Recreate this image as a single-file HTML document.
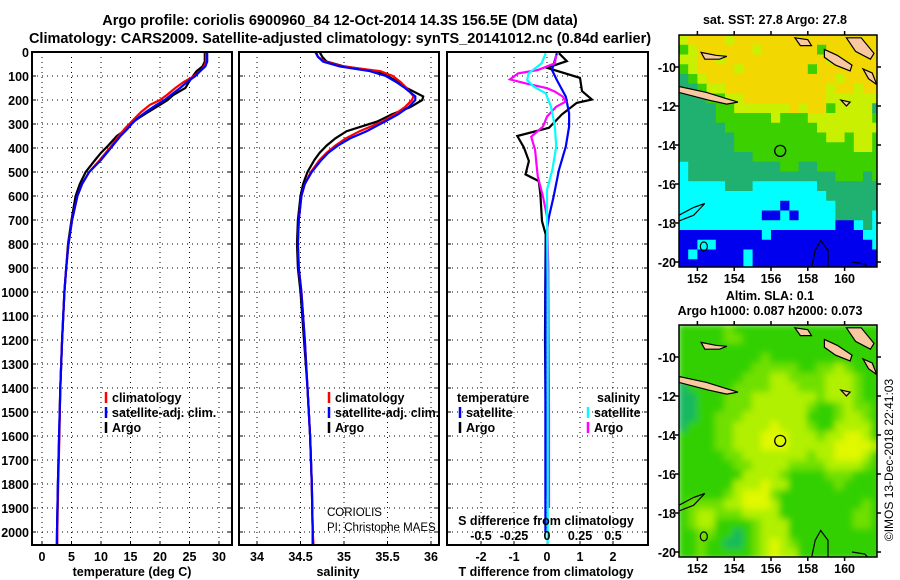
<!DOCTYPE html>
<html><head><meta charset="utf-8">
<style>
html,body{margin:0;padding:0;background:#fff;}
svg{display:block;font-family:"Liberation Sans",sans-serif;}
.b{font-weight:bold;font-size:12.5px;}
.t{font-weight:bold;font-size:14.5px;}
</style></head>
<body>
<svg id="fig" width="900" height="580" viewBox="0 0 900 580">
<text class="t" x="340" y="25" text-anchor="middle">Argo profile: coriolis 6900960_84 12-Oct-2014 14.3S 156.5E (DM data)</text>
<text class="t" x="340" y="43" text-anchor="middle">Climatology: CARS2009. Satellite-adjusted climatology: synTS_20141012.nc (0.84d earlier)</text>
<text class="b" x="775" y="24" text-anchor="middle">sat. SST: 27.8 Argo: 27.8</text>
<text class="b" x="770" y="300" text-anchor="middle">Altim. SLA: 0.1</text>
<text class="b" x="770" y="315" text-anchor="middle">Argo h1000: 0.087 h2000: 0.073</text>
<text x="893" y="460" font-size="12" text-anchor="middle" transform="rotate(-90 893 460)">©IMOS 13-Dec-2018 22:41:03</text>
<g id="layer"></g>
</svg>
<script>
// ---------- data ----------
const depthTicks = [0,100,200,300,400,500,600,700,800,900,1000,1100,1200,1300,1400,1500,1600,1700,1800,1900,2000];
const tempTicks = [0,5,10,15,20,25,30];
const salTicks = [34,34.5,35,35.5,36];
const salTickLabels = ["34","34.5","35","35.5","36"];
const tdiffTicks = [-2,-1,0,1,2];
const sdiffTicks = [-0.5,-0.25,0,0.25,0.5];
const sdiffLabels = ["-0.5","-0.25","0","0.25","0.5"];

const tDepth = [0,40,60,80,100,125,150,180,200,220,250,280,300,320,350,390,420,450,500,550,600,700,800,900,1000,1200,1400,1600,1800,2000,2050];
const tArgo = [27.6,27.6,27.2,26.2,25.6,24.9,24.3,22.2,21.3,20.0,18.0,16.1,15.0,14.4,12.7,11.2,10.0,9.0,7.4,6.4,5.7,5.0,4.4,4.1,3.8,3.4,3.1,2.9,2.7,2.55,2.5];
const tClim = [27.8,27.8,27.5,26.8,25.8,24.0,22.6,21.1,20.0,18.3,16.8,15.6,14.8,14.0,13.0,11.8,10.8,9.8,8.0,6.8,6.0,5.1,4.5,4.1,3.8,3.4,3.1,2.95,2.75,2.6,2.6];
const tSat = [28.0,28.0,27.7,26.8,26.0,24.6,23.4,21.8,20.8,19.4,17.6,16.0,15.2,14.5,13.3,12.0,11.0,10.0,8.0,6.8,6.0,5.1,4.5,4.1,3.8,3.4,3.1,2.9,2.7,2.55,2.55];

const sDepth = [0,20,40,60,80,100,125,150,185,200,230,260,290,330,360,390,420,450,500,550,600,700,800,900,1000,1200,1400,1600,1800,2000,2050];
const sArgo = [34.72,34.75,34.80,35.0,35.38,35.50,35.62,35.72,35.91,35.90,35.76,35.55,35.38,35.03,34.9,34.8,34.72,34.66,34.58,34.53,34.50,34.47,34.46,34.47,34.50,34.54,34.58,34.61,34.63,34.64,34.64];
const sClim = [34.68,34.70,34.78,34.98,35.42,35.56,35.65,35.72,35.80,35.78,35.70,35.58,35.44,35.18,35.02,34.9,34.8,34.72,34.62,34.55,34.51,34.48,34.47,34.48,34.51,34.55,34.58,34.61,34.63,34.64,34.65];
const sSat = [34.67,34.70,34.76,34.95,35.30,35.48,35.60,35.70,35.82,35.82,35.74,35.62,35.47,35.26,35.07,34.93,34.82,34.74,34.63,34.55,34.51,34.48,34.47,34.48,34.51,34.55,34.58,34.61,34.63,34.64,34.64];

const dtArgoDepth = [5,38,66,108,163,198,212,260,316,350,398,454,510,538,594,705,760,900,1200,1500,1850];
const dtArgo = [0.36,0.6,0.0,1.0,1.06,1.36,0.9,0.45,0.06,-0.9,-0.7,-0.55,-0.65,-0.25,-0.2,-0.15,-0.04,-0.05,-0.06,-0.04,-0.04];
const dtSatDepth = [5,75,117,186,256,311,394,492,603,686,769,1000,1500,2000];
const dtSat = [0.3,0.15,0.3,0.57,0.67,0.67,0.57,0.36,0.2,0.06,-0.03,-0.05,-0.05,-0.05];
const dsArgoDepth = [13,47,75,89,114,131,151,165,186,207,228,269,311,353,408,464,519,603,686,900,1500,1900];
const dsArgo = [0.07,0.06,-0.07,-0.22,-0.28,-0.16,0,0.06,0.12,0.14,0.07,0,-0.03,-0.12,-0.09,-0.08,-0.07,-0.03,0,0.01,0.015,0.015];
const dsSatDepth = [5,47,89,117,144,172,228,311,394,492,575,686,1000,1500,2050];
const dsSat = [-0.01,-0.04,-0.14,-0.15,-0.1,-0.01,0.03,0.06,0.07,0.04,0,0,0.005,0.005,0.005];

const latTicks = [-10,-12,-14,-16,-18,-20];
const lonTicks = [152,154,156,158,160];
const sstGrid = [
"LYYYYLYYYYYYYYYYYYYYYY","GLYYYYYYLYYYYYYGYYYYYY","LLYYLYYYYYYYYYYYLYYYYY","GLYYYYLYYYYYYYGYYYYYYY",
"TGLYYYYYYYYYYYYYYLYYYY","TTGLLYYYYYYYYYYYLYYLYY","TTTGGLLYYYYYYYYYLLLLLL","TTTTGGLLLLLLYLYYGLLLLT",
"TTTTGGGGGGLGGGLLLLLLLG","TTTTTGGGGGGGGGGLLLLLLL","TTTTTTGGGGGGGGGGLLGLLG","TTTTTTGGGGGGGGGGGGGLLG",
"TTTTTTTTGGGGGGGGGGGGGG","CTTTTTTTTTTGGTTGGGGGGG","CTTTTTTTTTTTTTTTTGGGTG","CCCCCTTTCCCCCCCTTTTTTT",
"CCCCCCCCCCCCCCCCTTTTTT","CCCCCCCCCCCBCCCCCTTTTT","CCCCCCCCCBBCBCCCCTTTTC","CCCCCCCCCCCCCCCCCBBCTC",
"BBBBBBBBBCBBBBBBBBBBCC","BBCCBBBBBBBBBBBBBBBBBC","BCBBBBBCBBBBBBBBBBBBBB","BBBBBBBCBBBBBBBBBBBBBB"];
const slaGrid = [
"GGGGGMGGGGGGGGGGGGGGGG","GGGGGMMGGGGGGGGGGGGGGG","GGGGGGGGGGGGGGGGGGGGGG","GGGGGGGGGMGGGGGGGGGGGG",
"GGGGGGGGMMMMMGGMMLMGGG","GGGGGGGMMMLLMMMMLLLMGG","DGGGGGMMMMLLLMMMLLLMGG","DDGGGMMMLLLLLLLMLLLMGG",
"DDGGGMMMLLLLLLMGGMLMMG","DDGGMMMLLLLLLLGGGMLLMG","DGGGMMLLLLYLLLMGGLLLLG","GGGGMMLLLYYYLLLMLLYYLG",
"GGGGMMLLLYYYLLLLLYYYYL","GGGGGMMLLLLLLLMLLYYYLG","GGGGGGMMLLLLMMMMLLLLMG","GGGGGGGLLLLMGGGGMMMGGG",
"GGGGGGLLLYLLGGGGGMGGGG","GGGGGMLYYYMGGGGGGGGGGG","GMMMMLLYYYLGGGGGGGGGMG","GMLLMMMLLLLGGGGGGGGMMG",
"GMLLGGGGMLLLGGGGGGGMMG","GGMMGGDGMLLLGGGGGGGGGG","GGMGGDDGMLYLMGGGGGGGGG","GGMGGGGGMLYLLGGGGGGGGG"];
const argoLon = 156.5, argoLat = -14.3;

// ---------- helpers ----------
const NS="http://www.w3.org/2000/svg";
const layer=document.getElementById('layer');
function mk(tag,attrs,parent){const e=document.createElementNS(NS,tag);for(const k in attrs)e.setAttribute(k,attrs[k]);(parent||layer).appendChild(e);return e;}
const TOP=52, BOT=545;
function yD(d){return TOP+d*0.24;}

function panel(x0,x1,name){
  const g=mk('g',{});
  
  
  return g;
}
function grid(g,x0,x1,xs){
  depthTicks.forEach(d=>{if(d>0){const l=mk('line',{x1:x0,x2:x1,y1:yD(d),y2:yD(d),stroke:'#000','stroke-width':1,'stroke-dasharray':'1 4'},g);
    
    
    mk('line',{x1:x0,x2:x0+4,y1:yD(d),y2:yD(d),stroke:'#000'},g);mk('line',{x1:x1-4,x2:x1,y1:yD(d),y2:yD(d),stroke:'#000'},g);}});
  xs.forEach(x=>{const l=mk('line',{x1:x,x2:x,y1:TOP,y2:BOT,stroke:'#000','stroke-width':1,'stroke-dasharray':'1 4'},g);
    
    
    mk('line',{x1:x,x2:x,y1:BOT-4,y2:BOT,stroke:'#000'},g);});
}
function frame(g,x0,x1){const r=mk('rect',{x:x0,y:TOP,width:x1-x0,height:BOT-TOP,fill:'none',stroke:'#000','stroke-width':2},g);
  
  }
function series(g,ds,vs,xf,color,name,w){
  const pts=ds.map((d,i)=>xf(vs[i]).toFixed(1)+','+yD(d).toFixed(1)).join(' ');
  const p=mk('polyline',{points:pts,fill:'none',stroke:color,'stroke-width':w||2.2,'stroke-linejoin':'miter'},g);
  
  
}
function txt(g,x,y,s,cls,anchor,name){const t=mk('text',{x:x,y:y,'text-anchor':anchor||'middle'},g);if(cls)t.setAttribute('class',cls);t.textContent=s;
  
  
  return t;}
function legend(g,x,y,items){items.forEach((it,i)=>{const yy=y+i*15;
  mk('line',{x1:x,x2:x,y1:yy-10,y2:yy+1,stroke:it[1],'stroke-width':2.5},g);
  const t=txt(g,x+6,yy,it[0],'b','start','legend-entry');t.setAttribute('font-size','11.5');});}

// ---------- panel 1: temperature ----------
const xT=v=>42+v*5.9;
const p1=panel(32,232,'temperature-panel');
grid(p1,32,232,tempTicks.map(xT));
series(p1,tDepth,tArgo,xT,'#000','temp-argo-line');
series(p1,tDepth,tClim,xT,'#f00','temp-climatology-line');
series(p1,tDepth,tSat,xT,'#00f','temp-satellite-line');
frame(p1,32,232);
depthTicks.forEach(d=>txt(p1,29,yD(d)+5,String(d),'b','end','depth-tick-label'));
tempTicks.forEach(v=>txt(p1,xT(v),561,String(v),'b','middle','temp-tick-label'));
txt(p1,132,576,'temperature (deg C)','b','middle','x-axis-title-temperature');
legend(p1,106,402,[['climatology','#f00'],['satellite-adj. clim.','#00f'],['Argo','#000']]);

// ---------- panel 2: salinity ----------
const xS=v=>257+(v-34)*87;
const p2=panel(239,439,'salinity-panel');
grid(p2,239,439,salTicks.map(xS));
series(p2,sDepth,sArgo,xS,'#000','sal-argo-line');
series(p2,sDepth,sClim,xS,'#f00','sal-climatology-line');
series(p2,sDepth,sSat,xS,'#00f','sal-satellite-line');
frame(p2,239,439);
salTicks.forEach((v,i)=>txt(p2,xS(v),561,salTickLabels[i],'b','middle','sal-tick-label'));
txt(p2,338,576,'salinity','b','middle','x-axis-title-salinity');
legend(p2,329,402,[['climatology','#f00'],['satellite-adj. clim.','#00f'],['Argo','#000']]);
let c1=txt(p2,327,516,'CORIOLIS',null,'start','operator-label');c1.setAttribute('font-size','11.5');
let c2=txt(p2,327,531,'PI: Christophe MAES',null,'start','pi-label');c2.setAttribute('font-size','11.5');

// ---------- panel 3: differences ----------
const xDT=v=>547+v*33;
const xDS=v=>547+v*132;
const p3=panel(447,648,'difference-panel');
grid(p3,447,648,tdiffTicks.map(xDT));
series(p3,dtArgoDepth,dtArgo,xDT,'#000','tdiff-argo-line');
series(p3,dtSatDepth,dtSat,xDT,'#00f','tdiff-satellite-line');
series(p3,dsArgoDepth,dsArgo,xDS,'#f0f','sdiff-argo-line');
series(p3,dsSatDepth,dsSat,xDS,'#0ff','sdiff-satellite-line');
frame(p3,447,648);
tdiffTicks.forEach(v=>txt(p3,xDT(v),561,String(v),'b','middle','tdiff-tick-label'));
txt(p3,546,576,'T difference from climatology','b','middle','x-axis-title-tdiff');
txt(p3,546,525,'S difference from climatology','b','middle','sdiff-axis-title');
sdiffTicks.forEach((v,i)=>txt(p3,xDS(v),540,sdiffLabels[i],'b','middle','sdiff-tick-label'));
txt(p3,457,402,'temperature','b','start','legend-title-temperature');
legend(p3,460,417,[['satellite','#00f'],['Argo','#000']]);
txt(p3,597,402,'salinity','b','start','legend-title-salinity');
legend(p3,588,417,[['satellite','#0ff'],['Argo','#f0f']]);

// ---------- maps ----------
const MX0=679,MX1=877,LON0=151.0,PXD=18.4,PYD=19.5;
function map(yTop,gridRows,colors,name,blur){
  const yBot=yTop+232;
  const xL=lon=>MX0+(lon-LON0)*PXD;
  const yL=lat=>yTop+32+(-10-lat)*PYD;
  const g=mk('g',{});
  
  
  const cid='clip'+yTop;
  const cp=mk('clipPath',{id:cid},g);mk('rect',{x:MX0,y:yTop,width:MX1-MX0,height:232},cp);
  const cg=mk('g',{'clip-path':'url(#'+cid+')'},g);
  const fg=mk('g',{},cg);
  if(blur){const f=mk('filter',{id:'bl'+yTop,x:'-5%',y:'-5%',width:'110%',height:'110%'},g);mk('feGaussianBlur',{stdDeviation:3.5},f);fg.setAttribute('filter','url(#bl'+yTop+')');}
  const latTop=-10+32/PYD;
  gridRows.forEach((row,r)=>{for(let c=0;c<row.length;c++){
    const lo=LON0+c*0.5, la=latTop-r*0.5;
    const cell=mk('rect',{x:xL(lo)-(blur?1:0),y:yL(la)-(blur?1:0),width:0.5*PXD+(blur?2:0.6),height:0.5*PYD+(blur?2:0.6),fill:colors[row[c]]},fg);
    
    
  }});
  const isl=[[[152.2,-9.25],[153.0,-9.4],[153.6,-9.45],[153.2,-9.6],[152.4,-9.6]],
    [[151.0,-11.0],[152.5,-11.3],[153.5,-11.6],[154.2,-11.8],[153.6,-11.9],[152.6,-11.7],[151.0,-11.3]],
    [[158.9,-9.1],[159.6,-9.4],[160.4,-9.9],[160.3,-10.2],[159.5,-9.9],[158.9,-9.5]],
    [[160.1,-8.5],[160.9,-8.5],[161.6,-9.3],[161.4,-9.6],[160.6,-9.2]],
    [[161.0,-10.1],[161.5,-10.3],[161.75,-10.9],[161.3,-10.6]],
    [[157.3,-8.5],[158.0,-8.6],[158.2,-8.9],[157.6,-8.9]],
    [[159.8,-11.7],[160.3,-11.8],[160.1,-12.0]]];
  isl.forEach(pl=>{const p=mk('polygon',{points:pl.map(q=>xL(q[0]).toFixed(1)+','+yL(q[1]).toFixed(1)).join(' '),fill:'#f8c8a0',stroke:'#000','stroke-width':1.2},cg);
    
    });
  const outl=[[[151.0,-17.6],[151.8,-17.2],[152.4,-17.0],[151.8,-17.6],[151.0,-17.9]],
    [[158.2,-20.3],[158.4,-19.4],[158.7,-18.9],[159.1,-19.4],[159.1,-20.3]],
    [[160.4,-20.0],[161.1,-20.1],[161.3,-20.3],[160.5,-20.3]]];
  outl.forEach(pl=>{const p=mk('polyline',{points:pl.map(q=>xL(q[0]).toFixed(1)+','+yL(q[1]).toFixed(1)).join(' '),fill:'none',stroke:'#000','stroke-width':1.2},cg);
    
    });
  const e=mk('ellipse',{cx:xL(152.35),cy:yL(-19.2),rx:3.5,ry:4.5,fill:'none',stroke:'#000','stroke-width':1.2},cg);
  
  
  const m=mk('circle',{cx:xL(argoLon),cy:yL(argoLat),r:5.5,fill:'none',stroke:'#000','stroke-width':1.3},g);
  
  
  const fr=mk('rect',{x:MX0,y:yTop,width:MX1-MX0,height:232,fill:'none',stroke:'#000','stroke-width':1.5},g);
  
  
  latTicks.forEach(la=>{mk('line',{x1:MX1,x2:MX1+4,y1:yL(la),y2:yL(la),stroke:'#000','stroke-width':1.5},g);mk('line',{x1:MX0-4,x2:MX0,y1:yL(la),y2:yL(la),stroke:'#000','stroke-width':1.5},g);
    txt(g,676,yL(la)+5,String(la),'b','end','lat-tick-label');});
  lonTicks.forEach(lo=>{mk('line',{x1:xL(lo),x2:xL(lo),y1:yBot,y2:yBot+4,stroke:'#000','stroke-width':1.5},g);mk('line',{x1:xL(lo),x2:xL(lo),y1:yTop-4,y2:yTop,stroke:'#000','stroke-width':1.5},g);
    txt(g,xL(lo),yBot+16,String(lo),'b','middle','lon-tick-label');});
}
map(35,sstGrid,{Y:'#f2d800',L:'#c8f000',G:'#3cd000',T:'#20b070',C:'#00ffff',B:'#0000ee'},'sst-map',false);
map(325,slaGrid,{D:'#18b860',G:'#30d000',M:'#70e000',L:'#b0f000',Y:'#e0f800'},'sla-map',true);
</script>
</body></html>
